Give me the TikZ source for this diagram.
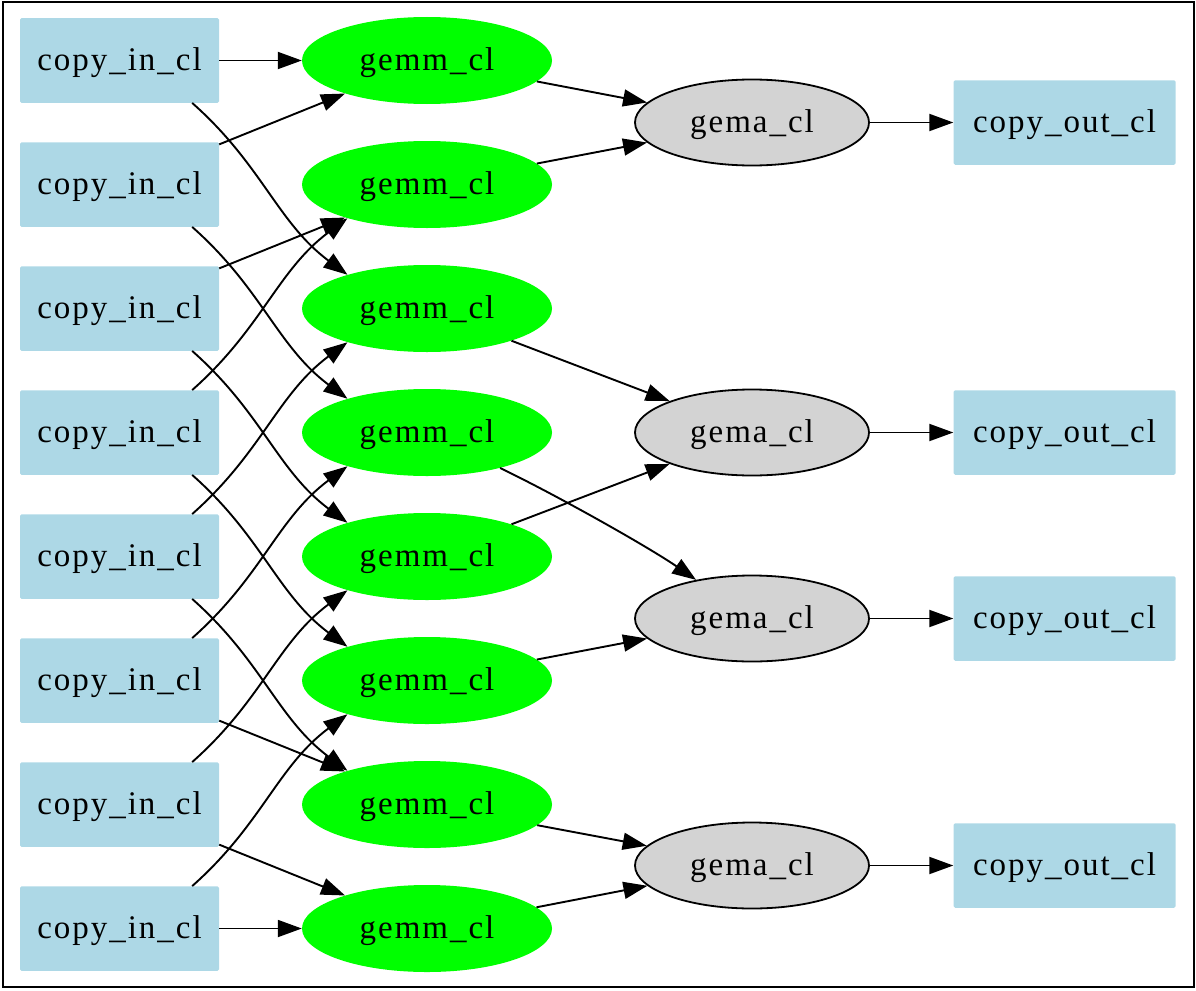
\documentclass[tikz,border=0pt]{standalone}
\usepackage{fontspec}
\newfontfamily\lblfont[LetterSpace=6]{Liberation Serif}
\usetikzlibrary{arrows.meta,shapes.geometric}
\definecolor{boxblue}{HTML}{ADD8E6}
\definecolor{gemmgreen}{HTML}{00FF00}
\definecolor{gemagray}{HTML}{D3D3D3}
\begin{document}
\begin{tikzpicture}[x=1pt,y=-1pt,
  lbl/.style={font=\lblfont\fontsize{33}{35}\selectfont, text height=20pt, text depth=0pt, inner sep=0pt},
  inbox/.style={lbl, rectangle, rounded corners=1.5pt, fill=boxblue, minimum width=199pt, minimum height=84.5pt},
  outbox/.style={inbox, minimum width=222pt},
  gemmnode/.style={lbl, ellipse, fill=gemmgreen, minimum width=250pt, minimum height=87pt},
  gemanode/.style={lbl, ellipse, draw=black, line width=1.8pt, fill=gemagray, minimum width=234pt, minimum height=86pt},
  link/.style={line width=1.9pt, -{Triangle[length=24pt,width=17pt]}},
]
\useasboundingbox (0,0) rectangle (1196,990);
\draw[line width=2pt] (2.5,2.5) rectangle (1193.5,987);

% input copies and gemm kernels, one per row
\foreach \k in {1,...,8} {
  \node[inbox] (ci\k) at (119.5, {60.5+124*(\k-1)}) {copy\_in\_cl};
  \node[gemmnode] (gm\k) at (427, {60.5+124*(\k-1)}) {gemm\_cl};
}

% gema kernels and output copies
\foreach \k/\yy in {1/122.5, 2/432.5, 3/618.5, 4/865.5} {
  \node[gemanode] (ga\k) at (752,\yy) {gema\_cl};
  \node[outbox] (co\k) at (1064.5,\yy) {copy\_out\_cl};
  \draw[link] (ga\k) -- (co\k);
}

% straight input edges
\draw[link] (ci1) -- (gm1);
\draw[link] (ci2) -- (gm1);
\draw[link] (ci3) -- (gm2);
\draw[link] (ci6) -- (gm7);
\draw[link] (ci7) -- (gm8);
\draw[link] (ci8) -- (gm8);

% curved input edges, two rows down
\foreach \a/\b in {1/3,2/4,3/5,4/6,5/7}
  \draw[link] ([xshift=-27pt]ci\a.south east) .. controls +(70,62) and +(-70,-52) .. (gm\b.157);

% curved input edges, two rows up
\foreach \a/\b in {4/2,5/3,6/4,7/5,8/6}
  \draw[link] ([xshift=-27pt]ci\a.north east) .. controls +(70,-62) and +(-70,52) .. (gm\b.203);

% gemm to gema
\draw[link] (gm1) -- (ga1);
\draw[link] (gm2) -- (ga1);
\draw[link] (gm3) -- (ga2);
\draw[link] (gm5) -- (ga2);
\draw[link] (gm4) .. controls (560,497) and (650,548) .. (ga3);
\draw[link] (gm6) -- (ga3);
\draw[link] (gm7) -- (ga4);
\draw[link] (gm8) -- (ga4);
\end{tikzpicture}
\end{document}
